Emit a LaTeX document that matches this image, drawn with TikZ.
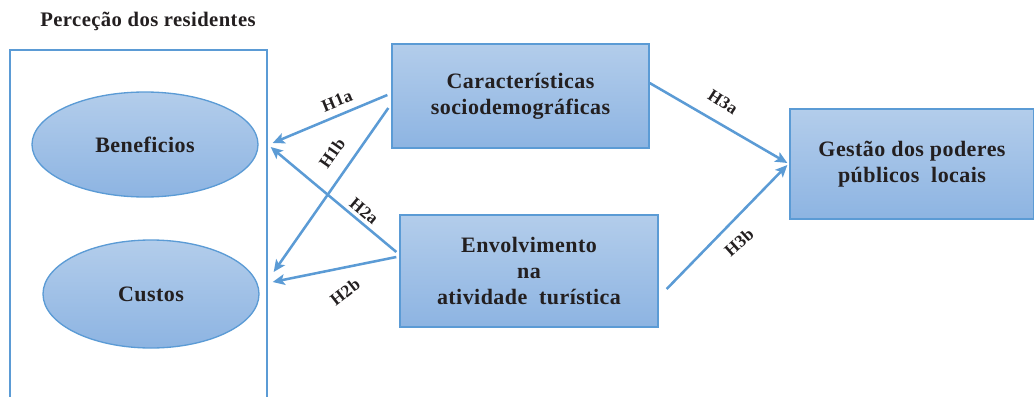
\documentclass[tikz,border=0pt]{standalone}
\usepackage{fontspec}
\setmainfont{Liberation Serif}[LetterSpace=2]
\usetikzlibrary{arrows.meta,shapes.geometric}
\definecolor{edge}{HTML}{5B9BD5}
\definecolor{filltop}{HTML}{B3CDEB}
\definecolor{fillbot}{HTML}{8DB4E2}
\definecolor{ink}{HTML}{231F20}
\tikzset{
  boxnode/.style={draw=edge, line width=1pt, top color=filltop, bottom color=fillbot, align=center, text=ink,
    font=\bfseries\fontsize{16.5}{19.5}\selectfont, inner sep=0pt},
  ellnode/.style={boxnode, ellipse},
  conn/.style={draw=edge, line width=1.9pt, -{Stealth[length=9pt,width=8pt,inset=2pt]}},
  hlbl/.style={text=ink, font=\bfseries\fontsize{13}{15}\selectfont, inner sep=0pt},
}
\begin{document}
\begin{tikzpicture}[x=0.75pt,y=-0.75pt]
\useasboundingbox (0,0) rectangle (1034,396);
% title and frame
\node[text=ink, font=\bfseries\fontsize{15.5}{18}\selectfont, inner sep=0pt] (title) at (148,21) {Perceção dos residentes};
\draw[edge, line width=0.9pt] (10,410) -- (10,50) -- (267,50) -- (267,410);
% nodes
\node[ellnode, minimum width=169.5pt, minimum height=78.75pt] (ben) at (145,144.5) {Beneficios};
\node[ellnode, minimum width=162pt, minimum height=81pt] (cus) at (151,294) {Custos};
\node[boxnode, minimum width=192.75pt, minimum height=78pt] (car) at (520.5,96) {Características\\sociodemográficas};
\node[boxnode, minimum width=193.5pt, minimum height=84pt] (env) at (529,271) {Envolvimento\\na\\atividade~ turística};
\node[boxnode, minimum width=183pt, minimum height=82.5pt] (ges) at (912,164) {Gestão dos poderes\\públicos~ locais};
% connector ends
\coordinate (s1a) at ([shift={(-4,-1)}]car.west);
\coordinate (s1b) at ([shift={(-3,12)}]car.west);
\coordinate (e1a) at ([shift={(14,-1.5)}]ben.east);
\coordinate (e2a) at ([shift={(12,2.5)}]ben.east);
\coordinate (s2a) at ([shift={(-3,-19)}]env.west);
\coordinate (s2b) at ([shift={(-3,-14)}]env.west);
\coordinate (e1b) at ([shift={(14,-22)}]cus.east);
\coordinate (e2b) at ([shift={(13,-12)}]cus.east);
\coordinate (s3a) at ([shift={(0,-13)}]car.east);
\coordinate (s3b) at ([shift={(8,18)}]env.east);
\coordinate (e3a) at ([shift={(-2,-1)}]ges.west);
\coordinate (e3b) at ([shift={(-2,1)}]ges.west);
% connectors
\draw[conn] (s1a) -- (e1a);
\draw[conn] (s1b) -- (e1b);
\draw[conn] (s2a) -- (e2a);
\draw[conn] (s2b) -- (e2b);
\draw[conn] (s3a) -- (e3a);
\draw[conn] (s3b) -- (e3b);
% labels
\node[hlbl, rotate=22] (l1a) at (337,101) {H1a};
\node[hlbl, rotate=55] (l1b) at (332,153) {H1b};
\node[hlbl, rotate=-40] (l2a) at (364,211) {H2a};
\node[hlbl, rotate=38] (l2b) at (345,292) {H2b};
\node[hlbl, rotate=-33] (l3a) at (723,102) {H3a};
\node[hlbl, rotate=42] (l3b) at (739,242) {H3b};
\end{tikzpicture}
\end{document}
